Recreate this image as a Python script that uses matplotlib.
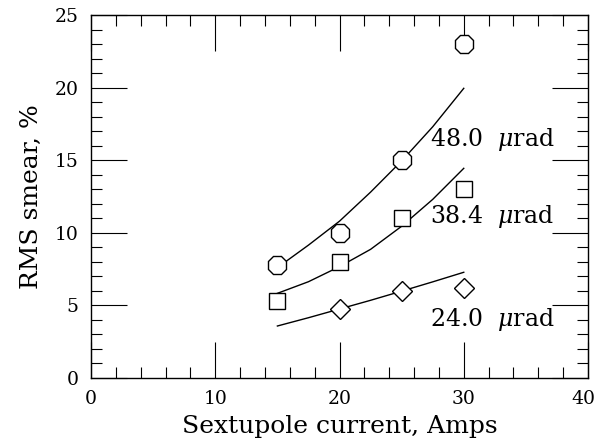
import matplotlib
matplotlib.use("Agg")
import matplotlib.pyplot as plt
from matplotlib.ticker import MultipleLocator
from matplotlib.transforms import ScaledTranslation

# Measured points
current = [15, 20, 25, 30]
smear_48 = [7.8, 10.0, 15.0, 23.0]
smear_384 = [5.3, 8.0, 11.0, 13.0]
current_24 = [20, 25, 30]
smear_24 = [4.75, 6.0, 6.2]

# Fit curves
fit_x = [15, 17.5, 20, 22.5, 25, 27.5, 30]
fit_48 = [7.6, 9.15, 10.8, 12.8, 14.95, 17.3, 19.95]
fit_384 = [5.83, 6.63, 7.67, 8.86, 10.45, 12.3, 14.44]
fit_24 = [3.58, 4.15, 4.75, 5.35, 5.98, 6.62, 7.28]

labels = ["48.0  $\\mu$rad", "38.4  $\\mu$rad", "24.0  $\\mu$rad"]
label_pos = [(27.3, 16.4), (27.3, 11.1), (27.3, 4.06)]

plt.rcParams['font.family'] = ['DejaVu Serif']
plt.rcParams['mathtext.fontset'] = 'dejavuserif'

fig = plt.figure(figsize=(5.98, 4.41), dpi=100)
ax = fig.add_axes([0.1522, 0.1429, 0.8311, 0.8231])

ax.plot(fit_x, fit_48, color='black', lw=1.0)
ax.plot(fit_x, fit_384, color='black', lw=1.0)
ax.plot(fit_x, fit_24, color='black', lw=1.0)

ax.plot(current, smear_48, linestyle='none', marker='8', ms=13.5,
        mfc='white', mec='black', mew=1.0, zorder=3)
ax.plot(current, smear_384, linestyle='none', marker='s', ms=12,
        mfc='white', mec='black', mew=1.0, zorder=3)
ax.plot(current_24, smear_24, linestyle='none', marker='D', ms=10,
        mfc='white', mec='black', mew=1.0, zorder=3)

for txt, (x, y) in zip(labels, label_pos):
    ax.text(x, y, txt, fontsize=17, ha='left', va='center')

ax.set_xlim(0, 40)
ax.set_ylim(0, 25)
ax.xaxis.set_major_locator(MultipleLocator(10))
ax.xaxis.set_minor_locator(MultipleLocator(2))
ax.yaxis.set_major_locator(MultipleLocator(5))
ax.yaxis.set_minor_locator(MultipleLocator(1))
ax.tick_params(which='both', direction='in', top=True, right=True,
               labelsize=13.5, width=0.8, color='black')
ax.tick_params(which='major', length=26)
ax.tick_params(axis='x', which='major', pad=9)
ax.tick_params(axis='y', which='major', pad=9)
ax.tick_params(which='minor', length=8)
for s in ax.spines.values():
    s.set_linewidth(1.0)

ax.set_xlabel("Sextupole current, Amps", fontsize=18, labelpad=5)
ax.set_ylabel("RMS smear, %", fontsize=18, labelpad=8)

fig.canvas.draw()
ticks = ax.xaxis.get_major_ticks()
for t in ticks:
    if abs(t.get_loc() - 40) < 1e-6:
        lab = t.label1
        lab.set_transform(lab.get_transform() +
                          ScaledTranslation(-3 / 72, 0, fig.dpi_scale_trans))

fig.savefig("out.png", dpi=100)
